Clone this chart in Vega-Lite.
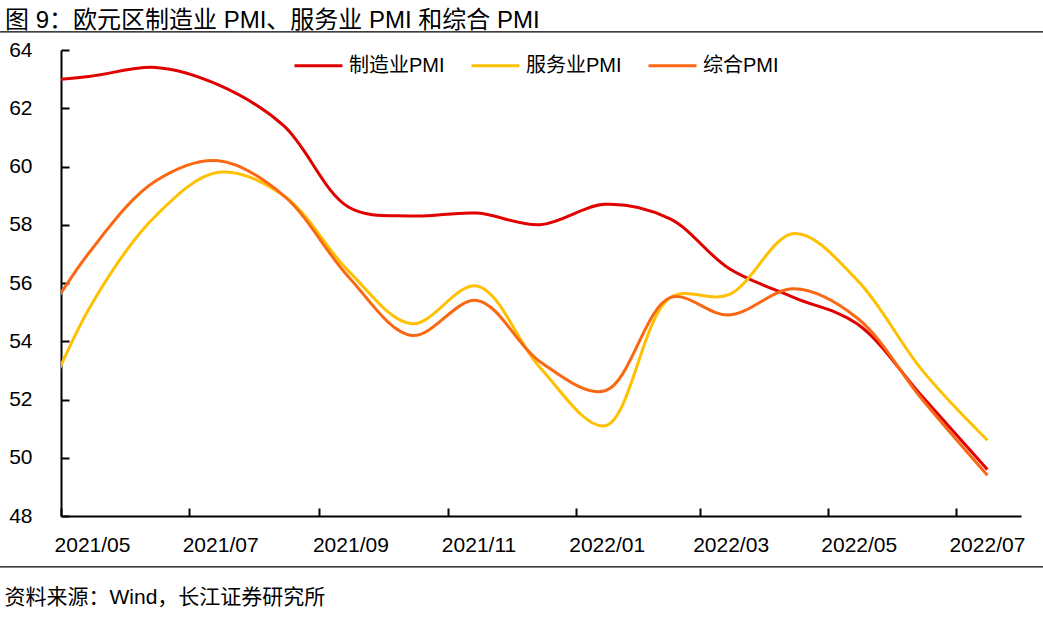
{
  "$schema": "https://vega.github.io/schema/vega-lite/v6.json",
  "autosize": "none",
  "width": 960,
  "height": 466,
  "padding": {"left": 61, "top": 50, "right": 22, "bottom": 101},
  "background": "white",
  "config": {
    "font": "Liberation Sans, Noto Sans CJK SC",
    "view": {"stroke": null},
    "axis": {"grid": false, "domainColor": "black", "tickColor": "black", "labelColor": "black", "domainWidth": 2, "tickWidth": 2}
  },
  "title": {
    "text": "图 9：欧元区制造业 PMI、服务业 PMI  和综合 PMI",
    "anchor": "start",
    "frame": "group",
    "dx": -56,
    "fontSize": 24,
    "fontWeight": "normal",
    "color": "black",
    "offset": -2
  },
  "data": {
    "values": [
      {"date": "2021-04-15", "制造业PMI": 62.9, "服务业PMI": 50.5, "综合PMI": 53.8},
      {"date": "2021-05-15", "制造业PMI": 63.1, "服务业PMI": 55.2, "综合PMI": 57.1},
      {"date": "2021-06-15", "制造业PMI": 63.4, "服务业PMI": 58.3, "综合PMI": 59.5},
      {"date": "2021-07-15", "制造业PMI": 62.8, "服务业PMI": 59.8, "综合PMI": 60.2},
      {"date": "2021-08-15", "制造业PMI": 61.4, "服务业PMI": 59.0, "综合PMI": 59.0},
      {"date": "2021-09-15", "制造业PMI": 58.6, "服务业PMI": 56.4, "综合PMI": 56.2},
      {"date": "2021-10-15", "制造业PMI": 58.3, "服务业PMI": 54.6, "综合PMI": 54.2},
      {"date": "2021-11-15", "制造业PMI": 58.4, "服务业PMI": 55.9, "综合PMI": 55.4},
      {"date": "2021-12-15", "制造业PMI": 58.0, "服务业PMI": 53.1, "综合PMI": 53.3},
      {"date": "2022-01-15", "制造业PMI": 58.7, "服务业PMI": 51.1, "综合PMI": 52.3},
      {"date": "2022-02-15", "制造业PMI": 58.2, "服务业PMI": 55.5, "综合PMI": 55.5},
      {"date": "2022-03-15", "制造业PMI": 56.5, "服务业PMI": 55.6, "综合PMI": 54.9},
      {"date": "2022-04-15", "制造业PMI": 55.5, "服务业PMI": 57.7, "综合PMI": 55.8},
      {"date": "2022-05-15", "制造业PMI": 54.6, "服务业PMI": 56.1, "综合PMI": 54.8},
      {"date": "2022-06-15", "制造业PMI": 52.1, "服务业PMI": 53.0, "综合PMI": 52.0},
      {"date": "2022-07-16", "制造业PMI": 49.6, "服务业PMI": 50.6, "综合PMI": 49.4}
    ]
  },
  "layer": [
    {
      "transform": [
        {"fold": ["制造业PMI", "服务业PMI", "综合PMI"], "as": ["series", "value"]}
      ],
      "mark": {"type": "line", "interpolate": "catmull-rom", "strokeWidth": 3, "clip": true},
      "encoding": {
        "x": {
          "field": "date",
          "type": "temporal",
          "scale": {
            "type": "utc",
            "domain": [
              {"year": 2021, "month": 5, "date": 1, "utc": true},
              {"year": 2022, "month": 8, "date": 1, "utc": true}
            ]
          },
          "axis": {
            "values": [
              {"year": 2021, "month": 5, "date": 1, "utc": true},
              {"year": 2021, "month": 7, "date": 1, "utc": true},
              {"year": 2021, "month": 9, "date": 1, "utc": true},
              {"year": 2021, "month": 11, "date": 1, "utc": true},
              {"year": 2022, "month": 1, "date": 1, "utc": true},
              {"year": 2022, "month": 3, "date": 1, "utc": true},
              {"year": 2022, "month": 5, "date": 1, "utc": true},
              {"year": 2022, "month": 7, "date": 1, "utc": true}
            ],
            "labelExpr": "utcFormat(datum.value, '%Y/%m')",
            "labelFontSize": 21,
            "labelPadding": 26,
            "labelOffset": 31,
            "tickSize": -8,
            "labelFlush": false,
            "labelOverlap": false,
            "title": "资料来源：Wind，长江证券研究所",
            "titleFontSize": 21,
            "titleFontWeight": "normal",
            "titleColor": "black",
            "titleAnchor": "start",
            "titleAlign": "left",
            "titleX": -57,
            "titleY": 81,
            "titleBaseline": "middle"
          }
        },
        "y": {
          "field": "value",
          "type": "quantitative",
          "scale": {"domain": [48, 64], "nice": false, "zero": false},
          "axis": {
            "values": [48, 50, 52, 54, 56, 58, 60, 62, 64],
            "labelFontSize": 21,
            "labelPadding": 37,
            "tickSize": -8,
            "title": null
          }
        },
        "color": {
          "field": "series",
          "type": "nominal",
          "sort": ["制造业PMI", "服务业PMI", "综合PMI"],
          "scale": {
            "domain": ["制造业PMI", "服务业PMI", "综合PMI"],
            "range": ["#E00000", "#FFC000", "#FA6814"]
          },
          "legend": {
            "title": null,
            "orient": "none",
            "direction": "horizontal",
            "legendX": 232,
            "legendY": -10,
            "symbolType": "stroke",
            "symbolSize": 2304,
            "symbolStrokeWidth": 3,
            "labelFontSize": 20,
            "labelColor": "black",
            "labelOffset": 5,
            "columnPadding": 20,
            "labelLimit": 300
          }
        }
      }
    },
    {
      "mark": {"type": "rule", "color": "black", "strokeWidth": 1.3, "clip": false},
      "data": {"values": [{"y": 64.62}, {"y": 46.25}]},
      "encoding": {
        "y": {"field": "y", "type": "quantitative"},
        "x": {"datum": {"year": 2021, "month": 4, "date": 2, "utc": true}, "type": "temporal"},
        "x2": {"datum": {"year": 2022, "month": 8, "date": 12, "utc": true}}
      }
    }
  ]
}
